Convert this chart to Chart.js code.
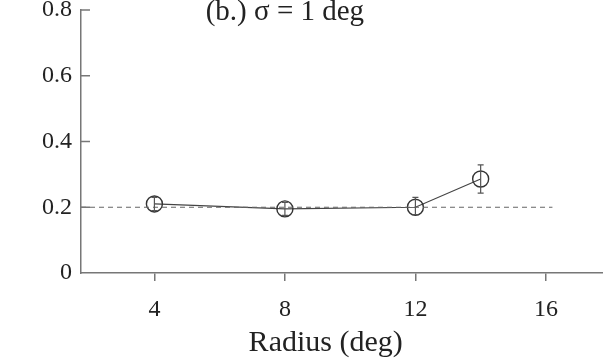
<!DOCTYPE html>
<html>
<head>
<meta charset="utf-8">
<script src="https://cdn.jsdelivr.net/npm/chart.js@4.4.1/dist/chart.umd.min.js"></script>
<style>
  html, body { margin: 0; padding: 0; background: #fff; }
  #wrap { width: 603px; height: 361px; }
</style>
</head>
<body>
<div id="wrap"><canvas id="myChart1" width="603" height="361"></canvas></div>
<script>

// data
let radius = [4, 8, 12, 14];
let meanVal = [0.21, 0.195, 0.2, 0.286];
let errLow = [0.19, 0.175, 0.178, 0.243];
let errHigh = [0.23, 0.215, 0.23, 0.329];

let refX = [1.75, 16.2];
let refY = [0.2, 0.2];

let xTicks = [4, 8, 12, 16];
let yTicks = [0, 0.2, 0.4, 0.6, 0.8];
let yLabels = ['0', '0.2', '0.4', '0.6', '0.8'];

let chartTitle = '(b.) \u03c3 = 1 deg';
let xTitle = 'Radius (deg)';

const serif = "'Liberation Serif', 'Times New Roman', serif";
const axisGray = '#777';

// vertical error bars
const errorBars = {
  id: 'errorBars',
  afterDatasetsDraw(chart) {
    let ctx = chart.ctx;
    let xs = chart.scales.x, ys = chart.scales.y;
    ctx.save();
    ctx.strokeStyle = '#555';
    ctx.lineWidth = 1.2;
    for (let i = 0; i < radius.length; i++) {
      let px = xs.getPixelForValue(radius[i]);
      let lo = ys.getPixelForValue(errLow[i]);
      let hi = ys.getPixelForValue(errHigh[i]);
      ctx.beginPath();
      ctx.moveTo(px, lo); ctx.lineTo(px, hi);
      ctx.moveTo(px - 3, lo); ctx.lineTo(px + 3, lo);
      ctx.moveTo(px - 3, hi); ctx.lineTo(px + 3, hi);
      ctx.stroke();
    }
    ctx.restore();
  }
};

// inward y ticks, title and axis title
const extras = {
  id: 'extras',
  afterDraw(chart) {
    let ctx = chart.ctx;
    let xs = chart.scales.x, ys = chart.scales.y;
    ctx.save();
    ctx.strokeStyle = axisGray;
    ctx.lineWidth = 1.5;
    yTicks.forEach(function (v) {
      if (v === 0) return;
      let py = ys.getPixelForValue(v);
      ctx.beginPath();
      ctx.moveTo(chart.chartArea.left, py);
      ctx.lineTo(chart.chartArea.left + 9, py);
      ctx.stroke();
    });
    ctx.fillStyle = '#222';
    ctx.textAlign = 'center';
    ctx.textBaseline = 'alphabetic';
    ctx.font = '29px ' + serif;
    ctx.fillText(chartTitle, xs.getPixelForValue(8), 20);
    ctx.font = '30px ' + serif;
    ctx.fillText(xTitle, xs.getPixelForValue(9.25), 351);
    ctx.restore();
  }
};

let chart1 = new Chart(document.getElementById('myChart1').getContext('2d'), {
  type: 'line',
  data: {
    datasets: [
      {
        label: 'reference',
        data: refX.map((x, i) => ({ x: x, y: refY[i] })),
        borderColor: '#666',
        borderWidth: 1.2,
        borderDash: [5, 4],
        pointRadius: 0,
        fill: false
      },
      {
        label: 'sigma 1',
        data: radius.map((x, i) => ({ x: x, y: meanVal[i] })),
        borderColor: '#444',
        borderWidth: 1.2,
        pointRadius: 8,
        pointStyle: 'circle',
        pointBorderColor: '#333',
        pointBorderWidth: 1.4,
        pointBackgroundColor: 'rgba(0,0,0,0)',
        fill: false
      }
    ]
  },
  options: {
    responsive: false,
    animation: false,
    layout: { autoPadding: false, padding: { top: 10, right: 0, left: 0, bottom: 0 } },
    plugins: {
      legend: { display: false },
      tooltip: { enabled: false },
      title: { display: false }
    },
    scales: {
      x: {
        type: 'linear',
        min: 1.75,
        max: 17.75,
        afterBuildTicks: function (s) { s.ticks = xTicks.map(v => ({ value: v })); },
        afterFit: function (s) { s.height = 88; s.paddingLeft = 0; s.paddingRight = 0; },
        border: { color: axisGray, width: 1.5 },
        grid: { drawOnChartArea: false, drawTicks: true, tickLength: 8, color: axisGray, lineWidth: 1.5 },
        ticks: { color: '#222', font: { family: serif, size: 24 }, padding: 14, maxRotation: 0 },
        title: { display: false }
      },
      y: {
        type: 'linear',
        min: 0,
        max: 0.8,
        afterBuildTicks: function (s) { s.ticks = yTicks.map(v => ({ value: v })); },
        afterFit: function (s) { s.width = 81; s.paddingTop = 0; s.paddingBottom = 0; },
        border: { color: axisGray, width: 1.5 },
        grid: { display: false, drawTicks: false },
        ticks: {
          color: '#222',
          font: { family: serif, size: 24 },
          padding: 9,
          callback: function (v) { return yLabels[yTicks.indexOf(v)]; }
        }
      }
    }
  },
  plugins: [errorBars, extras]
});

</script>
</body>
</html>
